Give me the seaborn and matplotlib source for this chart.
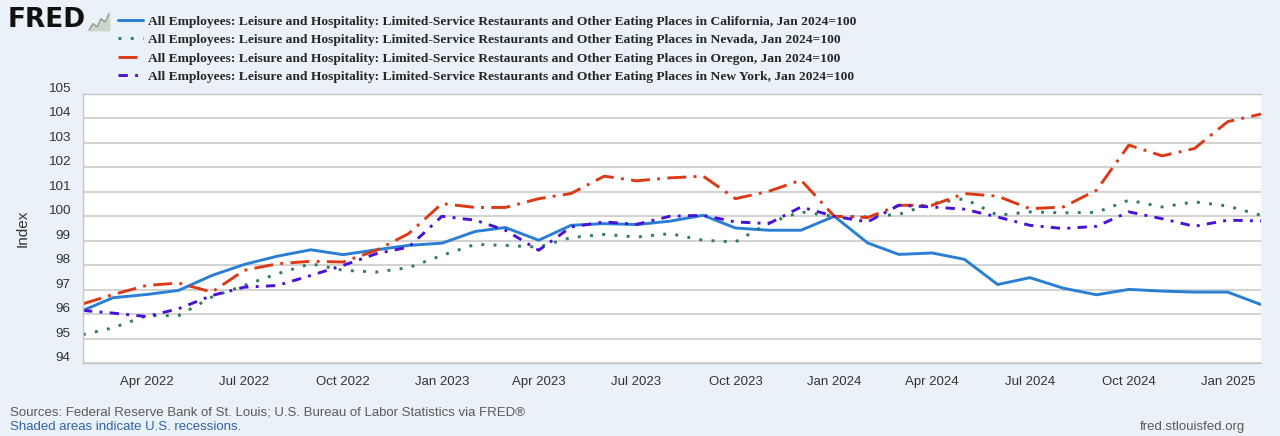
import matplotlib
matplotlib.use("Agg")
import matplotlib.pyplot as plt
import matplotlib.dates as mdates
import matplotlib.transforms as mtransforms
import pandas as pd
import seaborn as sns

# Monthly index values, Jan 2024 = 100 (Feb 2022 .. Feb 2025)
months = pd.date_range("2022-02-01", "2025-02-01", freq="MS")

california = [96.15, 96.67, 96.80, 96.97, 97.58, 98.03, 98.37, 98.63, 98.43, 98.63, 98.81, 98.90,
              99.38, 99.54, 99.02, 99.63, 99.70, 99.66, 99.80, 100.04, 99.52, 99.43, 99.43, 100.00,
              98.91, 98.44, 98.50, 98.24, 97.21, 97.49, 97.06, 96.79, 97.01, 96.94, 96.90, 96.90,
              96.39]
nevada = [95.16, 95.44, 95.93, 95.94, 96.70, 97.17, 97.65, 98.06, 97.79, 97.72, 97.90, 98.40,
          98.85, 98.81, 98.74, 99.13, 99.26, 99.15, 99.29, 99.02, 98.95, 99.73, 100.18, 100.00,
          99.98, 100.08, 100.52, 100.72, 100.04, 100.18, 100.14, 100.16, 100.66, 100.38, 100.59, 100.42,
          100.04]
oregon = [96.42, 96.80, 97.17, 97.27, 96.90, 97.79, 98.06, 98.16, 98.13, 98.61, 99.29, 100.52,
          100.36, 100.36, 100.72, 100.93, 101.64, 101.45, 101.57, 101.64, 100.72, 101.02, 101.48, 100.00,
          99.95, 100.45, 100.45, 100.93, 100.82, 100.31, 100.38, 101.07, 102.91, 102.47, 102.77, 103.87,
          104.18]
new_york = [96.15, 96.04, 95.90, 96.22, 96.76, 97.10, 97.17, 97.58, 97.99, 98.47, 98.74, 100.00,
            99.84, 99.43, 98.61, 99.56, 99.77, 99.67, 100.00, 100.04, 99.77, 99.70, 100.38, 100.00,
            99.77, 100.45, 100.38, 100.29, 99.97, 99.63, 99.50, 99.59, 100.18, 99.90, 99.59, 99.84,
            99.81]

states = ["California", "Nevada", "Oregon", "New York"]
series_names = [f"All Employees: Leisure and Hospitality: Limited-Service Restaurants and Other "
                f"Eating Places in {s}, Jan 2024=100" for s in states]

colors = ["#2a7fd4", "#2f7a62", "#dc3a16", "#4a10d8"]
dash_styles = ["", (1, 3.2), (6.5, 2.5, 1, 2.5), (3.2, 2.5, 1, 2.5)]

y_ticks = list(range(94, 106))
x_ticks = pd.date_range("2022-04-01", "2025-01-01", freq="3MS")

BG = "#eaf1f8"
GRID = "#c6c6c6"

df = pd.DataFrame({"date": months, series_names[0]: california, series_names[1]: nevada,
                   series_names[2]: oregon, series_names[3]: new_york})
df = df.melt(id_vars="date", var_name="series", value_name="value")

sns.set_theme(style="white")
plt.rcParams["font.family"] = ["Liberation Sans", "DejaVu Sans"]

fig = plt.figure(figsize=(12.8, 4.36), dpi=100, facecolor=BG)
ax = fig.add_axes([0.0648, 0.1674, 0.9204, 0.617])
ax.set_facecolor("white")

sns.lineplot(data=df, x="date", y="value", hue="series", style="series",
             hue_order=series_names, style_order=series_names,
             palette=dict(zip(series_names, colors)),
             dashes=dict(zip(series_names, dash_styles)),
             linewidth=2.1, ax=ax)

ax.set_xlim(months[0], months[-1])
ax.set_ylim(94, 105)
ax.set_yticks(y_ticks)
ax.set_xticks(x_ticks)
ax.xaxis.set_major_formatter(mdates.DateFormatter("%b %Y"))
ax.yaxis.grid(True, color=GRID, linewidth=1.1)
ax.xaxis.grid(False)
for s in ax.spines.values():
    s.set_color(GRID)
    s.set_linewidth(1.0)
ax.spines["right"].set_visible(False)

ax.tick_params(axis="x", length=7, width=1, color=GRID, direction="out",
               labelsize=9.5, labelcolor="#333333", pad=2)
ax.tick_params(axis="y", length=0, labelsize=9.7, labelcolor="#333333", pad=9)
ax.set_xlabel("")
ax.set_ylabel("Index", fontsize=11, color="#333333", labelpad=13)

# FRED puts the y labels a bit above their gridlines
shift = mtransforms.ScaledTranslation(0, 0.065, fig.dpi_scale_trans)
for lab in ax.get_yticklabels():
    lab.set_transform(lab.get_transform() + shift)

# legend at the top, serif bold like FRED
handles, lbls = ax.get_legend_handles_labels()
ax.get_legend().remove()
fig.legend(handles, lbls, loc="upper left", bbox_to_anchor=(0.0922, 0.965),
           frameon=False, handlelength=1.85, handletextpad=0.37, labelspacing=0.45,
           borderaxespad=0, borderpad=0,
           prop={"family": "Liberation Serif", "weight": "bold", "size": 9.7})

# logo
fig.text(0.006, 0.953, "FRED", fontsize=19, fontweight="bold", family="DejaVu Sans",
         color="#111111", va="center", ha="left")
icon_y = [0, 2, 1, 3.5, 2.5, 5]
icon = fig.add_axes([88 / 1280, 1 - 31 / 436, 22 / 1280, 18 / 436])
icon.fill_between(range(len(icon_y)), icon_y, color="#c9d6c9")
icon.plot(range(len(icon_y)), icon_y, color="#8aa08a", linewidth=1)
icon.set_axis_off()

# footer
fig.text(0.008, 0.054, "Sources: Federal Reserve Bank of St. Louis; U.S. Bureau of Labor Statistics via FRED®",
         fontsize=9.5, color="#5a5a5a", va="center")
fig.text(0.008, 0.020, "Shaded areas indicate U.S. recessions.", fontsize=9.5,
         color="#2f64a8", va="center")
fig.text(0.973, 0.020, "fred.stlouisfed.org", fontsize=9.5, color="#5a5a5a",
         va="center", ha="right")

fig.savefig("out.png", dpi=100, facecolor=BG)
